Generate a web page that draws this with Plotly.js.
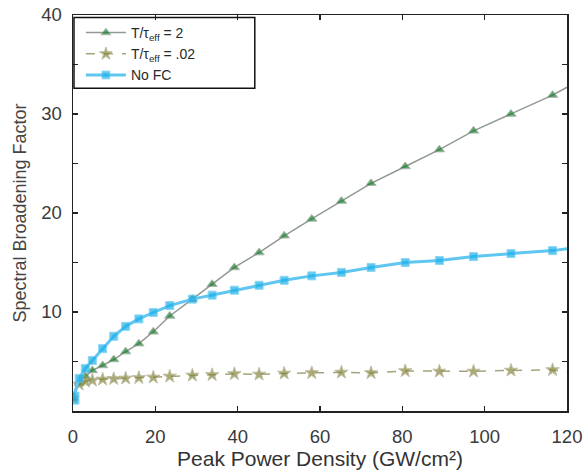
<!DOCTYPE html>
<html>
<head>
<meta charset="utf-8">
<script src="https://cdn.plot.ly/plotly-3.0.1.min.js"></script>
<style>html,body{margin:0;padding:0;background:#fff;}#chart{width:588px;height:474px;}</style>
</head>
<body>
<div id="chart"></div>
<script>
const power = [0, 1.5, 3, 4.7, 7.2, 9.9, 12.8, 16, 19.5, 23.5, 29, 33.8, 39.2, 45.2, 51.3, 58, 65.2, 72.4, 80.7, 89, 97.3, 106.4, 116.5, 120];
const ratio2 = [1.3, 2.8, 3.5, 4.1, 4.6, 5.2, 6.0, 6.8, 8.0, 9.6, 11.3, 12.8, 14.5, 16.0, 17.7, 19.4, 21.2, 23.0, 24.7, 26.4, 28.3, 30.0, 31.9, 32.7];
const ratio002 = [1.3, 2.7, 3.0, 3.1, 3.2, 3.25, 3.3, 3.35, 3.4, 3.5, 3.6, 3.65, 3.75, 3.7, 3.8, 3.85, 3.9, 3.85, 4.05, 4.0, 4.0, 4.1, 4.15, 3.9];
const noFC = [1.3, 3.3, 4.3, 5.1, 6.3, 7.55, 8.55, 9.3, 9.95, 10.65, 11.3, 11.7, 12.2, 12.7, 13.2, 13.65, 14.0, 14.5, 15.0, 15.2, 15.6, 15.9, 16.2, 16.4];
const names = ['T/τ<sub>eff</sub> = 2', 'T/τ<sub>eff</sub> = .02', 'No FC'];
const xTicks = [0, 20, 40, 60, 80, 100, 120];
const yTicks = [0, 5, 10, 15, 20, 25, 30, 35, 40];
const yTickText = ['', '', '10', '', '20', '', '30', '', '40'];

function sizes(s, first) {
  return power.map((_, i) => i === power.length - 1 ? 0 : (i === 0 ? first : s));
}

const FONT = 'Liberation Sans, Arial, sans-serif';

const traces = [
  {
    x: power, y: ratio2, name: names[0], type: 'scatter', mode: 'lines+markers',
    line: {color: '#8f9a92', width: 1.5},
    marker: {symbol: 'triangle-up', color: '#1a7f2e', size: sizes(9, 9)}
  },
  {
    x: power, y: ratio002, name: names[1], type: 'scatter', mode: 'lines+markers',
    line: {color: '#a5a47c', width: 1.5, dash: 'dash'},
    marker: {symbol: 'star', color: '#858538', size: sizes(10, 9)}
  },
  {
    x: power, y: noFC, name: names[2], type: 'scatter', mode: 'lines+markers',
    line: {color: '#5ec6f0', width: 3},
    marker: {symbol: 'square', color: '#1cb0ea', size: sizes(8, 12)}
  }
];

const axisBase = {
  showline: true, linecolor: '#222', linewidth: 1.5, mirror: 'ticks',
  ticks: 'inside', ticklen: 5, tickwidth: 1.5, tickcolor: '#222',
  showgrid: false, zeroline: false,
  tickfont: {family: FONT, size: 18.5, color: '#3a3a3a'}
};

const layout = {
  width: 588, height: 474,
  margin: {l: 73, r: 21, t: 15, b: 63},
  paper_bgcolor: '#fff', plot_bgcolor: '#fff',
  showlegend: true,
  legend: {
    x: 0.016, y: 0.995, xanchor: 'left', yanchor: 'top',
    bgcolor: 'rgba(255,255,255,0)', borderwidth: 0,
    font: {family: FONT, size: 14, color: '#2a2a2a'},
    tracegroupgap: 0, itemwidth: 40
  },
  shapes: [{
    type: 'rect', xref: 'paper', yref: 'paper',
    x0: 0.002, x1: 0.368, y0: 0.815, y1: 0.994,
    line: {color: '#111', width: 1.5}, fillcolor: 'rgba(0,0,0,0)', layer: 'above'
  }],
  xaxis: Object.assign({}, axisBase, {
    range: [0, 120], tickvals: xTicks, ticklabelstandoff: 8,
    title: {text: 'Peak Power Density (GW/cm²)', standoff: 4,
      font: {family: FONT, size: 21, color: '#333'}}
  }),
  yaxis: Object.assign({}, axisBase, {
    range: [0, 40], tickvals: yTicks, ticktext: yTickText, ticklabelstandoff: 6,
    title: {text: 'Spectral Broadening Factor', standoff: 10,
      font: {family: FONT, size: 18, color: '#444'}}
  })
};

Plotly.newPlot('chart', traces, layout, {displayModeBar: false, staticPlot: true});
</script>
</body>
</html>
